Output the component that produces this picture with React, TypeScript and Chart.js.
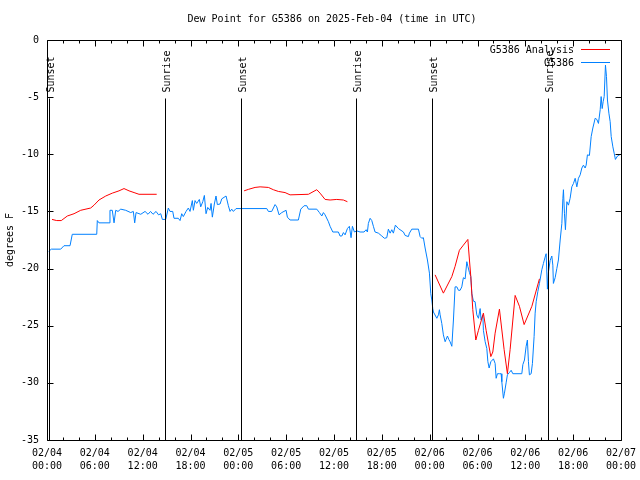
import React, { useEffect, useRef } from 'react';
import { Chart, registerables } from 'chart.js';

Chart.register(...registerables);

const TITLE = 'Dew Point for G5386 on 2025-Feb-04 (time in UTC)';
const Y_TITLE = 'degrees F';
const seriesNames = ['G5386 Analysis', 'G5386'];

// x axis: hours since 02/04 00:00 UTC
const xTickDates = ['02/04', '02/04', '02/04', '02/04', '02/05', '02/05', '02/05', '02/05', '02/06', '02/06', '02/06', '02/06', '02/07'];
const xTickTimes = ['00:00', '06:00', '12:00', '18:00', '00:00', '06:00', '12:00', '18:00', '00:00', '06:00', '12:00', '18:00', '00:00'];

const sunEventHours = [0.29, 14.84, 24.38, 38.81, 48.34, 62.9];
const sunEventLabels = ['Sunset', 'Sunrise', 'Sunset', 'Sunrise', 'Sunset', 'Sunrise'];

// observed G5386 dew point
const blueHours = [
  0.21, 0.54, 1.72, 2.13, 2.89, 3.17, 6.24, 6.31, 6.52, 7.78, 7.9, 8.19, 8.41, 8.62, 8.91, 9.25, 9.87, 10.5, 10.83, 11.0,
  11.17, 11.76, 12.3, 12.67, 12.99, 13.3, 13.68, 13.99, 14.27, 14.47, 14.89, 15.22, 15.43, 15.77, 15.93, 16.47, 16.69, 16.9, 17.1, 17.44,
  17.73, 17.94, 18.23, 18.36, 18.57, 18.78, 19.11, 19.28, 19.54, 19.74, 19.95, 20.16, 20.45, 20.58, 20.74, 20.99, 21.2, 21.37, 21.71, 21.92,
  22.46, 22.75, 22.96, 23.17, 23.38, 23.71, 27.57, 27.77, 28.19, 28.61, 28.82, 29.11, 29.45, 29.99, 30.15, 30.49, 31.53, 31.83, 32.25, 32.58,
  32.79, 33.84, 34.17, 34.47, 34.67, 34.88, 35.3, 35.51, 35.85, 36.55, 36.76, 36.98, 37.18, 37.39, 37.68, 37.93, 38.14, 38.31, 38.56, 38.86,
  39.27, 39.77, 40.03, 40.19, 40.31, 40.53, 40.74, 40.94, 41.15, 41.57, 42.0, 42.32, 42.62, 42.82, 43.04, 43.25, 43.45, 43.7, 44.08, 44.71,
  44.92, 45.33, 45.46, 45.76, 46.59, 46.8, 47.01, 47.21, 47.43, 47.72, 47.97, 48.14, 48.27, 48.39, 48.47, 48.9, 49.1, 49.22, 49.31, 49.52,
  49.72, 49.94, 50.06, 50.23, 50.4, 50.56, 50.78, 50.98, 51.19, 51.41, 51.61, 51.82, 52.03, 52.23, 52.45, 52.66, 52.79, 52.99, 53.16, 53.29,
  53.49, 53.7, 53.91, 54.12, 54.33, 54.45, 54.67, 54.74, 54.96, 55.17, 55.3, 55.46, 55.67, 55.87, 56.0, 56.21, 56.34, 56.5, 56.75, 56.96,
  57.05, 57.25, 57.38, 57.59, 57.75, 58.0, 58.22, 58.43, 59.56, 59.69, 59.89, 60.1, 60.26, 60.39, 60.51, 60.73, 60.89, 61.1, 61.23, 61.36,
  61.57, 61.77, 62.07, 62.27, 62.48, 62.61, 62.77, 62.9, 63.11, 63.32, 63.45, 63.52, 63.74, 63.95, 64.15, 64.37, 64.58, 64.71, 64.78, 64.91,
  65.03, 65.21, 65.41, 65.62, 65.83, 66.04, 66.25, 66.46, 66.66, 66.88, 67.09, 67.29, 67.5, 67.63, 67.79, 68.04, 68.26, 68.47, 68.76, 68.97,
  69.17, 69.39, 69.51, 69.64, 69.76, 69.89, 70.05, 70.18, 70.3, 70.48, 70.64, 70.77, 70.98, 71.14, 71.3, 71.56, 71.81, 71.98,
];
const blueValues = [
  -18.5, -18.3, -18.3, -18.0, -18.0, -17.0, -17.0, -15.8, -16.0, -16.0, -14.9, -14.9, -16.0, -14.9, -15.0, -14.8, -14.9, -15.1, -15.0, -16.0,
  -15.1, -15.25, -15.0, -15.25, -15.0, -15.25, -15.0, -15.3, -15.2, -15.7, -15.7, -14.7, -15.0, -15.0, -15.6, -15.6, -15.8, -15.2, -15.45, -15.0,
  -14.7, -15.0, -14.05, -14.9, -14.05, -14.3, -13.95, -14.6, -14.15, -13.6, -15.2, -14.65, -14.9, -14.3, -15.5, -14.35, -13.65, -14.4, -14.35, -13.9,
  -13.65, -14.5, -15.0, -14.8, -15.0, -14.75, -14.75, -15.0, -15.0, -14.4, -14.6, -15.3, -15.1, -14.9, -15.5, -15.75, -15.75, -14.8, -14.5, -14.5,
  -14.8, -14.8, -15.1, -15.4, -15.1, -15.3, -15.9, -16.3, -16.8, -16.8, -17.15, -17.15, -16.85, -17.05, -16.5, -16.3, -17.3, -16.3, -16.8, -16.7,
  -16.8, -16.8, -16.6, -16.8, -16.05, -15.6, -15.8, -16.3, -16.8, -16.9, -17.15, -17.35, -17.3, -16.55, -16.9, -16.6, -16.9, -16.2, -16.5, -16.8,
  -17.1, -17.2, -16.9, -16.55, -16.55, -17.2, -17.35, -17.3, -18.2, -19.25, -20.4, -22.2, -22.75, -23.5, -23.8, -24.35, -24.05, -23.6, -24.05, -24.8,
  -25.8, -26.4, -26.2, -25.9, -26.2, -26.4, -26.8, -24.5, -21.6, -21.6, -21.9, -21.9, -21.6, -20.8, -20.9, -19.4, -19.8, -20.35, -20.7, -22.2,
  -22.85, -22.9, -24.05, -24.35, -23.5, -24.5, -24.05, -25.4, -26.4, -27.0, -28.15, -28.7, -28.15, -28.0, -27.9, -28.3, -29.6, -29.2, -29.2, -29.2,
  -29.9, -31.35, -30.9, -30.0, -29.3, -29.1, -28.9, -29.2, -29.2, -28.4, -28.0, -26.8, -26.25, -28.15, -29.3, -29.2, -28.3, -25.95, -23.9, -22.9,
  -22.0, -21.3, -20.1, -19.55, -19.0, -18.7, -21.8, -20.3, -19.3, -18.9, -19.7, -21.3, -20.8, -20.0, -19.25, -17.5, -16.05, -13.85, -13.1, -15.2,
  -16.6, -14.15, -14.45, -13.85, -12.85, -12.55, -12.1, -12.85, -12.1, -11.8, -11.2, -10.95, -11.2, -10.95, -10.05, -10.1, -8.45, -7.7, -6.85, -6.95,
  -7.3, -6.1, -4.95, -6.0, -5.4, -4.95, -2.2, -3.2, -5.25, -6.4, -7.15, -8.45, -9.35, -9.9, -10.45, -10.15, -10.05, -10.0,
];

// G5386 analysis (null = gap between analysis runs)
const redHours = [
  0.63, 1.22, 1.79, 2.55, 3.39, 4.23, 5.48, 5.9, 6.52, 7.37, 8.19, 9.03, 9.66, 10.29, 10.92, 11.54, 13.76,
  19.0,
  24.72, 25.26, 26.1, 26.73, 27.77, 28.39, 29.02, 29.86, 30.49, 32.79, 33.84, 34.25, 34.88, 35.51, 36.35, 37.18, 37.68,
  43.0,
  48.68, 49.72, 50.78, 51.19, 51.73, 52.23, 52.79, 52.99, 53.16, 53.41, 53.79, 54.12, 54.74, 55.08, 55.67, 55.92, 56.21, 56.75, 57.34, 57.75,
  58.09, 58.72, 59.26, 59.85, 60.82, 61.77,
];
const redValues = [
  -15.7, -15.8, -15.8, -15.4, -15.2, -14.9, -14.7, -14.45, -14.0, -13.65, -13.4, -13.2, -13.0, -13.2, -13.35, -13.5, -13.5,
  null,
  -13.2, -13.07, -12.9, -12.85, -12.9, -13.1, -13.25, -13.35, -13.55, -13.5, -13.1, -13.4, -13.95, -14.0, -13.95, -14.0, -14.15,
  null,
  -20.55, -22.15, -20.7, -19.8, -18.4, -17.95, -17.45, -19.25, -20.7, -23.6, -26.25, -25.4, -23.9, -25.4, -27.7, -27.3, -25.65, -23.55, -27.1, -29.2,
  -27.1, -22.35, -23.3, -24.9, -23.3, -20.9,
];

const RED = '#ff0000';
const BLUE = '#0080ff';
const FONT = '"DejaVu Sans Mono", "Liberation Mono", monospace';

const decorPlugin = {
  id: 'gnuplotDecor',
  afterDatasetsDraw(chart: any) {
    const { ctx, chartArea: a, scales } = chart;
    const xs = scales.x;
    const ys = scales.y;
    const L = Math.round(a.left) + 0.5;
    const R = Math.round(a.right) + 0.5;
    const T = Math.round(a.top) + 0.5;
    const B = Math.round(a.bottom) + 0.5;
    ctx.save();
    ctx.strokeStyle = '#000';
    ctx.fillStyle = '#000';
    ctx.lineWidth = 1;
    ctx.font = `10px ${FONT}`;

    // sunrise / sunset markers
    sunEventHours.forEach((h, i) => {
      const px = Math.round(xs.getPixelForValue(h)) + 0.5;
      ctx.beginPath();
      ctx.moveTo(px, T + 58);
      ctx.lineTo(px, B);
      ctx.stroke();
      ctx.save();
      ctx.translate(px + 1.5, T + 52);
      ctx.rotate(-Math.PI / 2);
      ctx.textAlign = 'left';
      ctx.textBaseline = 'middle';
      ctx.fillText(sunEventLabels[i], 0, 0);
      ctx.restore();
    });

    // frame
    ctx.beginPath();
    ctx.rect(L, T, R - L, B - T);
    ctx.stroke();

    // inward ticks on all four sides
    ctx.beginPath();
    xs.ticks.forEach((t: any) => {
      const px = Math.round(xs.getPixelForValue(t.value)) + 0.5;
      const len = Math.round(t.value) % 6 === 0 ? 6 : 3;
      ctx.moveTo(px, B);
      ctx.lineTo(px, B - len);
      ctx.moveTo(px, T);
      ctx.lineTo(px, T + len);
    });
    ys.ticks.forEach((t: any) => {
      const py = Math.round(ys.getPixelForValue(t.value)) + 0.5;
      ctx.moveTo(L, py);
      ctx.lineTo(L + 6, py);
      ctx.moveTo(R, py);
      ctx.lineTo(R - 6, py);
    });
    ctx.stroke();

    // title
    ctx.textAlign = 'center';
    ctx.textBaseline = 'middle';
    ctx.fillText(TITLE, (a.left + a.right) / 2 - 2, 19);

    // y axis title
    ctx.save();
    ctx.translate(10, (a.top + a.bottom) / 2);
    ctx.rotate(-Math.PI / 2);
    ctx.fillText(Y_TITLE, 0, 0);
    ctx.restore();

    // legend (gnuplot style: text right aligned, sample on right)
    const colors = [RED, BLUE];
    seriesNames.forEach((name, i) => {
      const ty = a.top + 10 + i * 13;
      ctx.textAlign = 'right';
      ctx.fillStyle = '#000';
      ctx.fillText(name, a.right - 47, ty);
      ctx.strokeStyle = colors[i];
      ctx.beginPath();
      ctx.moveTo(a.right - 40, Math.round(ty) - 0.5);
      ctx.lineTo(a.right - 11, Math.round(ty) - 0.5);
      ctx.stroke();
    });
    ctx.restore();
  },
};

export default function App() {
  const canvasRef = useRef<HTMLCanvasElement | null>(null);

  useEffect(() => {
    const canvas = canvasRef.current;
    if (!canvas) return;
    const blueData = blueHours.map((h, i) => ({ x: h, y: blueValues[i] }));
    const redData = redHours.map((h, i) => ({ x: h, y: redValues[i] }));
    const chart = new Chart(canvas, {
      type: 'line',
      data: {
        datasets: [
          {
            label: seriesNames[0],
            data: redData as any,
            borderColor: RED,
            backgroundColor: RED,
            borderWidth: 1,
            pointRadius: 0,
            tension: 0,
            spanGaps: false,
          },
          {
            label: seriesNames[1],
            data: blueData,
            borderColor: BLUE,
            backgroundColor: BLUE,
            borderWidth: 1,
            pointRadius: 0,
            tension: 0,
          },
        ],
      },
      options: {
        responsive: false,
        animation: false,
        devicePixelRatio: 1,
        layout: { padding: { left: 0, right: 19, top: 40, bottom: 0 } },
        plugins: {
          legend: { display: false },
          title: { display: false },
          tooltip: { enabled: false },
        },
        scales: {
          x: {
            type: 'linear',
            min: 0,
            max: 72,
            grid: { display: false, drawTicks: false },
            border: { display: false },
            afterFit: (s: any) => {
              s.height = 40;
              s.paddingLeft = 0;
              s.paddingRight = 0;
            },
            ticks: {
              stepSize: 2,
              autoSkip: false,
              maxRotation: 0,
              minRotation: 0,
              padding: 7,
              color: '#000',
              font: { family: FONT, size: 10, lineHeight: 1.3 },
              callback: (v: any) => {
                const n = Math.round(Number(v));
                if (n % 6 !== 0) return '';
                const k = n / 6;
                return [xTickDates[k], xTickTimes[k]];
              },
            },
          },
          y: {
            min: -35,
            max: 0,
            grid: { display: false, drawTicks: false },
            border: { display: false },
            afterFit: (s: any) => {
              s.width = 47;
              s.paddingTop = 0;
              s.paddingBottom = 0;
            },
            ticks: {
              stepSize: 5,
              padding: 8,
              color: '#000',
              font: { family: FONT, size: 10 },
            },
          },
        },
      },
      plugins: [decorPlugin],
    });
    return () => chart.destroy();
  }, []);

  return (
    <div style={{ position: 'absolute', left: 0, top: 0, width: 640, height: 480, background: '#fff' }}>
      <canvas ref={canvasRef} width={640} height={480} style={{ display: 'block' }} />
    </div>
  );
}
